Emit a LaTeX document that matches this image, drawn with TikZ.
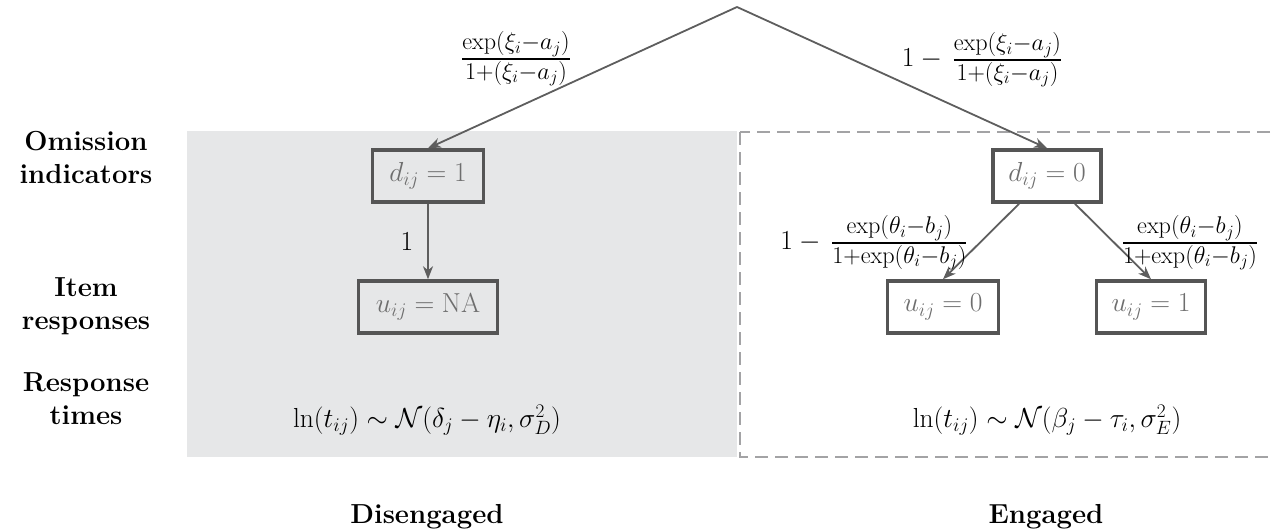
\RequirePackage{fix-cm}
\documentclass[tikz,border=0pt]{standalone}
\usepackage{amsmath,amssymb}
\usetikzlibrary{arrows.meta}
\definecolor{boxgray}{HTML}{555555}
\definecolor{boxtext}{HTML}{6E6E6E}
\definecolor{linegray}{HTML}{5E5E5E}
\definecolor{panelgray}{HTML}{E6E7E8}
\definecolor{dashgray}{HTML}{A3A3A5}
\newcommand{\bigfrac}[2]{\raisebox{-2pt}{\fontsize{34.5}{40}\selectfont$\frac{#1}{#2}$}}
\begin{document}
\begin{tikzpicture}[x=1pt,y=-1pt,
  every node/.style={font=\fontsize{27.5}{33}\selectfont, inner sep=0pt},
  sidelabel/.style={font=\fontsize{27.5}{33}\selectfont\bfseries, align=center},
  statebox/.style={draw=boxgray, line width=3.5pt, minimum height=52pt, inner xsep=14pt, text=boxtext},
  arr/.style={draw=linegray, line width=1.8pt, -{Stealth[length=13pt,width=10pt,inset=4pt]}},
  edgelab/.style={text=black}]
\useasboundingbox (0,0) rectangle (1271,532);
% panels
\fill[panelgray] (187,131) rectangle (737,457);
\draw[dashgray, line width=2pt, dash pattern=on 13pt off 7pt] (740,132) rectangle (1280,457);
% apex
\coordinate (top) at (737,7);
% boxes
\node[statebox, minimum width=111pt] (d1) at (428,176) {$d_{ij}=1$};
\node[statebox, minimum width=139pt] (una) at (428,307) {$u_{ij}=\mathrm{NA}$};
\node[statebox, minimum width=108pt] (d0) at (1047,176) {$d_{ij}=0$};
\node[statebox, minimum width=111pt] (u0) at (943,307) {$u_{ij}=0$};
\node[statebox, minimum width=109pt] (u1) at (1151,307) {$u_{ij}=1$};
% formulas
\node (rtd) at (427,420) {$\ln(t_{ij})\sim\mathcal{N}(\delta_j-\eta_i,\sigma^2_D)$};
\node (rte) at (1047,420) {$\ln(t_{ij})\sim\mathcal{N}(\beta_j-\tau_i,\sigma^2_E)$};
% side labels
\node[sidelabel] (lo) at (86,157) {Omission\\indicators};
\node[sidelabel] (li) at (86,306) {Item\\responses};
\node[sidelabel] (lr) at (86,399) {Response\\times};
\node[sidelabel, anchor=base] (ld) at (427,523) {Disengaged};
\node[sidelabel, anchor=base] (le) at (1046,523) {Engaged};
% connectors
\draw[arr] (top) -- (d1.north);
\draw[arr] (top) -- (d0.north);
\draw[arr] (d1) -- (una);
\draw[arr] (d0) -- (u0.north);
\draw[arr] (d0) -- (u1.north);
% edge labels
\node[edgelab] (l1) at (516,59) {\bigfrac{\exp(\xi_i-a_j)}{1+(\xi_i-a_j)}};
\node[edgelab] (l2) at (982,60) {$1-{}$\,\bigfrac{\exp(\xi_i-a_j)}{1+(\xi_i-a_j)}};
\node[edgelab] (l3) at (407,242) {$1$};
\node[edgelab] (l4) at (874,243) {$1-{}$\,\bigfrac{\exp(\theta_i-b_j)}{1+\exp(\theta_i-b_j)}};
\node[edgelab] (l5) at (1190,243) {\bigfrac{\exp(\theta_i-b_j)}{1+\exp(\theta_i-b_j)}};
\end{tikzpicture}
\end{document}
